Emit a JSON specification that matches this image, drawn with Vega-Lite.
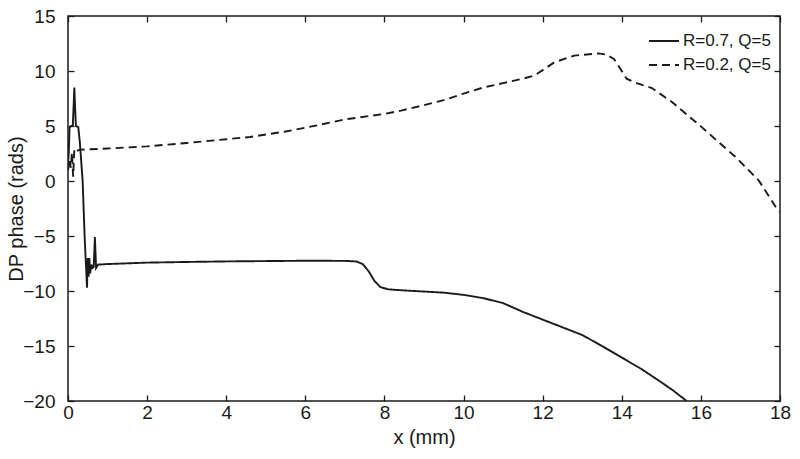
{
  "$schema": "https://vega.github.io/schema/vega-lite/v6.json",
  "width": 712,
  "height": 385,
  "autosize": "none",
  "padding": {"left": 68, "top": 16, "right": 20, "bottom": 58},
  "background": "white",
  "config": {
    "view": {"stroke": "#1a1a1a", "strokeWidth": 1.5},
    "font": "Liberation Sans",
    "axis": {"grid": false, "domain": false, "labelFlush": false, "tickColor": "#1a1a1a", "tickWidth": 1.3, "tickSize": -6, "labelColor": "#1a1a1a", "titleColor": "#1a1a1a", "labelFontSize": 19, "titleFontSize": 20, "titleFontWeight": "normal"}
  },
  "data": {"values": [
    {"x": 0, "y": 1.6, "s": "R=0.7, Q=5"},
    {"x": 0.02, "y": 2.6, "s": "R=0.7, Q=5"},
    {"x": 0.04, "y": 4.9, "s": "R=0.7, Q=5"},
    {"x": 0.08, "y": 5.0, "s": "R=0.7, Q=5"},
    {"x": 0.12, "y": 5.0, "s": "R=0.7, Q=5"},
    {"x": 0.14, "y": 6.6, "s": "R=0.7, Q=5"},
    {"x": 0.16, "y": 8.5, "s": "R=0.7, Q=5"},
    {"x": 0.18, "y": 6.6, "s": "R=0.7, Q=5"},
    {"x": 0.2, "y": 5.0, "s": "R=0.7, Q=5"},
    {"x": 0.26, "y": 4.9, "s": "R=0.7, Q=5"},
    {"x": 0.3, "y": 3.5, "s": "R=0.7, Q=5"},
    {"x": 0.37, "y": 0.0, "s": "R=0.7, Q=5"},
    {"x": 0.42, "y": -5.0, "s": "R=0.7, Q=5"},
    {"x": 0.48, "y": -9.7, "s": "R=0.7, Q=5"},
    {"x": 0.5, "y": -7.0, "s": "R=0.7, Q=5"},
    {"x": 0.52, "y": -8.7, "s": "R=0.7, Q=5"},
    {"x": 0.54, "y": -7.0, "s": "R=0.7, Q=5"},
    {"x": 0.56, "y": -8.4, "s": "R=0.7, Q=5"},
    {"x": 0.59, "y": -7.6, "s": "R=0.7, Q=5"},
    {"x": 0.62, "y": -7.9, "s": "R=0.7, Q=5"},
    {"x": 0.65, "y": -7.8, "s": "R=0.7, Q=5"},
    {"x": 0.68, "y": -5.1, "s": "R=0.7, Q=5"},
    {"x": 0.71, "y": -7.9, "s": "R=0.7, Q=5"},
    {"x": 0.76, "y": -7.6, "s": "R=0.7, Q=5"},
    {"x": 1, "y": -7.55, "s": "R=0.7, Q=5"},
    {"x": 2, "y": -7.42, "s": "R=0.7, Q=5"},
    {"x": 3, "y": -7.36, "s": "R=0.7, Q=5"},
    {"x": 4, "y": -7.31, "s": "R=0.7, Q=5"},
    {"x": 5, "y": -7.28, "s": "R=0.7, Q=5"},
    {"x": 6, "y": -7.25, "s": "R=0.7, Q=5"},
    {"x": 7, "y": -7.26, "s": "R=0.7, Q=5"},
    {"x": 7.3, "y": -7.32, "s": "R=0.7, Q=5"},
    {"x": 7.45, "y": -7.55, "s": "R=0.7, Q=5"},
    {"x": 7.6, "y": -8.2, "s": "R=0.7, Q=5"},
    {"x": 7.75, "y": -9.1, "s": "R=0.7, Q=5"},
    {"x": 7.9, "y": -9.65, "s": "R=0.7, Q=5"},
    {"x": 8.1, "y": -9.85, "s": "R=0.7, Q=5"},
    {"x": 8.5, "y": -9.95, "s": "R=0.7, Q=5"},
    {"x": 9, "y": -10.05, "s": "R=0.7, Q=5"},
    {"x": 9.5, "y": -10.15, "s": "R=0.7, Q=5"},
    {"x": 10, "y": -10.35, "s": "R=0.7, Q=5"},
    {"x": 10.5, "y": -10.65, "s": "R=0.7, Q=5"},
    {"x": 11, "y": -11.1, "s": "R=0.7, Q=5"},
    {"x": 11.5, "y": -11.9, "s": "R=0.7, Q=5"},
    {"x": 12, "y": -12.6, "s": "R=0.7, Q=5"},
    {"x": 12.5, "y": -13.3, "s": "R=0.7, Q=5"},
    {"x": 13, "y": -14.0, "s": "R=0.7, Q=5"},
    {"x": 13.5, "y": -15.0, "s": "R=0.7, Q=5"},
    {"x": 14, "y": -16.05, "s": "R=0.7, Q=5"},
    {"x": 14.5, "y": -17.1, "s": "R=0.7, Q=5"},
    {"x": 15, "y": -18.3, "s": "R=0.7, Q=5"},
    {"x": 15.3, "y": -19.05, "s": "R=0.7, Q=5"},
    {"x": 15.64, "y": -20, "s": "R=0.7, Q=5"},
    {"x": 0, "y": 1.0, "s": "R=0.2, Q=5"},
    {"x": 0.04, "y": 2.0, "s": "R=0.2, Q=5"},
    {"x": 0.07, "y": 1.2, "s": "R=0.2, Q=5"},
    {"x": 0.1, "y": 2.6, "s": "R=0.2, Q=5"},
    {"x": 0.13, "y": 0.4, "s": "R=0.2, Q=5"},
    {"x": 0.16, "y": 2.9, "s": "R=0.2, Q=5"},
    {"x": 0.2, "y": 2.7, "s": "R=0.2, Q=5"},
    {"x": 0.3, "y": 2.85, "s": "R=0.2, Q=5"},
    {"x": 1, "y": 2.95, "s": "R=0.2, Q=5"},
    {"x": 2, "y": 3.15, "s": "R=0.2, Q=5"},
    {"x": 3, "y": 3.45, "s": "R=0.2, Q=5"},
    {"x": 4, "y": 3.8, "s": "R=0.2, Q=5"},
    {"x": 4.6, "y": 4.0, "s": "R=0.2, Q=5"},
    {"x": 5.5, "y": 4.5, "s": "R=0.2, Q=5"},
    {"x": 6.3, "y": 5.06, "s": "R=0.2, Q=5"},
    {"x": 7, "y": 5.6, "s": "R=0.2, Q=5"},
    {"x": 8, "y": 6.1, "s": "R=0.2, Q=5"},
    {"x": 8.42, "y": 6.4, "s": "R=0.2, Q=5"},
    {"x": 9, "y": 6.9, "s": "R=0.2, Q=5"},
    {"x": 9.5, "y": 7.35, "s": "R=0.2, Q=5"},
    {"x": 10, "y": 7.95, "s": "R=0.2, Q=5"},
    {"x": 10.5, "y": 8.5, "s": "R=0.2, Q=5"},
    {"x": 11, "y": 8.9, "s": "R=0.2, Q=5"},
    {"x": 11.5, "y": 9.3, "s": "R=0.2, Q=5"},
    {"x": 11.8, "y": 9.6, "s": "R=0.2, Q=5"},
    {"x": 12.3, "y": 10.8, "s": "R=0.2, Q=5"},
    {"x": 12.8, "y": 11.4, "s": "R=0.2, Q=5"},
    {"x": 13.4, "y": 11.6, "s": "R=0.2, Q=5"},
    {"x": 13.6, "y": 11.5, "s": "R=0.2, Q=5"},
    {"x": 13.8, "y": 11.1, "s": "R=0.2, Q=5"},
    {"x": 14.0, "y": 10.0, "s": "R=0.2, Q=5"},
    {"x": 14.12, "y": 9.3, "s": "R=0.2, Q=5"},
    {"x": 14.3, "y": 9.0, "s": "R=0.2, Q=5"},
    {"x": 14.76, "y": 8.45, "s": "R=0.2, Q=5"},
    {"x": 15.26, "y": 7.2, "s": "R=0.2, Q=5"},
    {"x": 16.02, "y": 4.9, "s": "R=0.2, Q=5"},
    {"x": 16.87, "y": 2.2, "s": "R=0.2, Q=5"},
    {"x": 17.46, "y": 0.06, "s": "R=0.2, Q=5"},
    {"x": 17.97, "y": -2.8, "s": "R=0.2, Q=5"}
  ]},
  "layer": [
    {
      "mark": {"type": "line", "color": "#1a1a1a", "strokeWidth": 1.9, "clip": true},
      "encoding": {
        "x": {"field": "x", "type": "quantitative", "scale": {"domain": [0, 18], "nice": false, "zero": false},
              "axis": {"orient": "bottom", "values": [0, 2, 4, 6, 8, 10, 12, 14, 16, 18], "title": "x (mm)", "labelPadding": 8, "titlePadding": 5}},
        "y": {"field": "y", "type": "quantitative", "scale": {"domain": [-20, 15], "nice": false, "zero": false},
              "axis": {"orient": "left", "values": [-20, -15, -10, -5, 0, 5, 10, 15], "title": "DP phase (rads)", "labelPadding": 19, "titlePadding": -4}},
        "strokeDash": {"field": "s", "type": "nominal", "sort": ["R=0.7, Q=5", "R=0.2, Q=5"],
          "scale": {"domain": ["R=0.7, Q=5", "R=0.2, Q=5"], "range": [[1, 0], [8, 5]]},
          "legend": {"title": null, "orient": "top-right", "offset": 9, "labelFontSize": 17, "labelColor": "#1a1a1a", "symbolType": "stroke", "symbolSize": 900, "symbolStrokeWidth": 1.9, "symbolStrokeColor": "#1a1a1a", "rowPadding": -13, "labelOffset": 3}
        },
        "detail": {"field": "s"}
      }
    },
    {
      "mark": {"type": "point", "opacity": 0},
      "encoding": {
        "x": {"field": "x", "type": "quantitative", "axis": {"orient": "top", "values": [0, 2, 4, 6, 8, 10, 12, 14, 16, 18], "labels": false, "title": null}},
        "y": {"field": "y", "type": "quantitative", "axis": {"orient": "right", "values": [-20, -15, -10, -5, 0, 5, 10, 15], "labels": false, "title": null}}
      }
    }
  ],
  "resolve": {"axis": {"x": "independent", "y": "independent"}}
}
